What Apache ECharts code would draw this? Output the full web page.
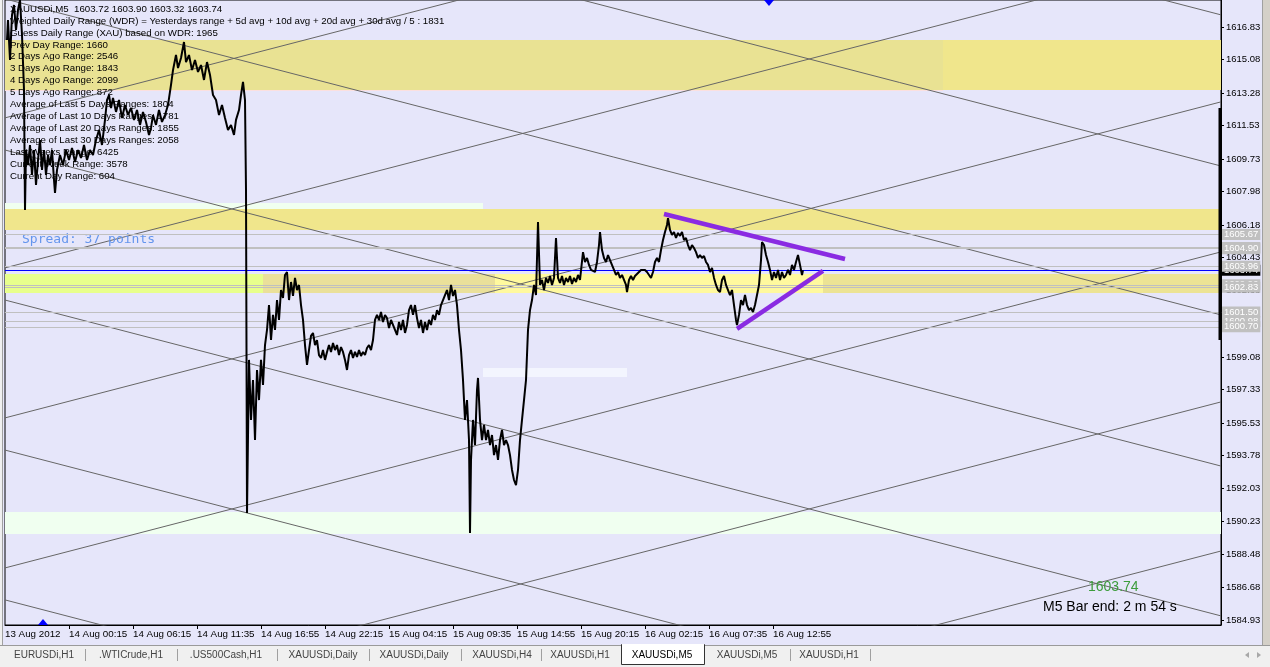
<!DOCTYPE html>
<html>
<head>
<meta charset="utf-8">
<script src="https://cdn.jsdelivr.net/npm/echarts@6.0.0/dist/echarts.min.js"></script>
<style>
html, body { margin: 0; padding: 0; background: #E6E6FA; }
#main { width: 1270px; height: 667px; }
</style>
</head>
<body>
<div id="main"></div>
<script>
// 时间轴标签 (每64根K线一个)
var timeLabels = ["13 Aug 2012", "14 Aug 00:15", "14 Aug 06:15", "14 Aug 11:35", "14 Aug 16:55", "14 Aug 22:15",
    "15 Aug 04:15", "15 Aug 09:35", "15 Aug 14:55", "15 Aug 20:15", "16 Aug 02:15", "16 Aug 07:35", "16 Aug 12:55"];
var labelIdx = [0, 64, 128, 192, 256, 320, 384, 448, 512, 576, 640, 704, 768];
var tickIdx = [64, 128, 192, 256, 320, 384, 448, 512, 576, 640, 704, 768];
// 右侧价格刻度
var yTicks = [1584.93, 1586.68, 1588.48, 1590.23, 1592.03, 1593.78, 1595.53, 1597.33, 1599.08, 1600.88,
    1602.68, 1604.43, 1606.18, 1607.98, 1609.73, 1611.53, 1613.28, 1615.08, 1616.83];

// 价格走势 [K线序号, 价格]
var price13 = [
    [2,1616.13],[3,1617.20],[5,1615.05],[7,1617.47],[9,1618.01],[11,1616.67],[13,1617.74],[15,1618.28],[17,1616.40],[19,1613.44],
    [20,1606.98],[21,1610.21],[23,1609.40],[25,1610.48],[27,1608.87],[29,1610.21],[31,1608.33],[33,1609.67],[35,1610.75],[37,1609.14],
    [39,1610.21],[41,1608.87],[43,1609.94],[45,1609.40],[47,1610.21],[49,1608.60],[50,1607.90],[52,1609.14],[55,1609.94],[58,1609.40],
    [61,1610.21],[64,1609.67],[67,1610.32],[70,1609.57],[73,1610.21],[76,1609.78],[79,1610.48],[82,1609.67],[85,1610.21],[88,1609.94],
    [91,1610.75],[94,1611.29],[97,1610.48],[100,1611.83],[102,1612.90],[104,1613.17],[106,1612.47],[108,1613.01],[111,1612.26],[114,1612.90],
    [117,1611.93],[120,1612.63],[123,1612.09],[126,1612.47],[129,1611.83],[132,1612.36],[135,1611.56],[138,1612.26],[141,1611.72],[144,1611.02],
    [146,1611.40],[148,1612.09],[151,1611.56],[154,1612.36],[157,1611.72],[160,1612.09],[163,1612.63],[166,1613.71],[168,1614.51],[171,1615.32],
    [173,1614.62],[176,1615.16],[179,1616.02],[181,1614.94],[184,1615.32],[187,1614.51],[190,1615.05],[193,1614.41],[196,1614.78],[199,1613.98],
    [202,1614.94],[205,1614.25],[208,1613.17],[211,1612.90],[214,1612.09],[217,1612.63],[220,1611.93],[223,1611.29],[226,1611.56],[229,1611.02],
    [231,1611.83],[234,1612.36],[236,1613.17],[238,1613.87],[240,1612.90],[241,1608.06],[242,1590.69],[244,1598.92]
];
var price14 = [
    [246,1595.69],[248,1597.84],[250,1594.61],[252,1598.38],[254,1596.76],[256,1598.92],[258,1597.57],[260,1599.72],[262,1600.53],[264,1601.87],
    [266,1599.99],[268,1601.34],[270,1600.53],[272,1602.14],[274,1601.07],[276,1602.68],[278,1602.25],[280,1603.49],[282,1603.65],[284,1602.14],
    [286,1603.11],[288,1602.36],[290,1603.33],[292,1602.68],[294,1602.95],[296,1601.87],[298,1601.07],[300,1599.72],[302,1598.65],[304,1599.45],
    [306,1600.21],[308,1600.37],[310,1599.72],[312,1599.99],[314,1599.18],[316,1599.02],[318,1599.45],[320,1598.92],[322,1599.35],[324,1599.72],
    [326,1599.35],[328,1599.83],[330,1599.45],[332,1599.72],[334,1599.18],[336,1599.61],[338,1599.35],[340,1598.92],[342,1598.38],[344,1599.18],
    [346,1599.45],[348,1599.02],[350,1599.35],[352,1599.08],[354,1599.45],[356,1599.13],[358,1599.35],[360,1599.18],[362,1599.56],[364,1599.72],
    [366,1599.45],[368,1599.99],[370,1601.07],[372,1601.34],[374,1601.07],[376,1601.50],[378,1600.96],[380,1601.34],[382,1601.17],[384,1600.64],
    [386,1601.07],[388,1600.80],[390,1600.53],[392,1600.26],[394,1600.96],[396,1600.53],[398,1601.07],[400,1600.37],[402,1600.80],[404,1601.60],
    [406,1601.87],[408,1601.34],[410,1601.87],[412,1601.17],[414,1600.64],[416,1601.07],[418,1600.37],[420,1600.96],[422,1600.53],[424,1601.07],
    [426,1600.80],[428,1601.34],[430,1601.07],[432,1601.60],[434,1601.34],[436,1601.87],[438,1602.14],[440,1602.41],[442,1602.68],[444,1602.14],
    [446,1602.95],[448,1602.36],[450,1602.68],[452,1601.87],[454,1600.53],[456,1599.45],[458,1597.84],[460,1595.69],[462,1596.76],[464,1594.61],
    [465,1589.61],[466,1593.54],[468,1595.69],[470,1594.34],[472,1597.30],[473,1597.95],[475,1595.69],[477,1594.61],[479,1595.42],[481,1594.61],
    [483,1595.15],[485,1594.34],[487,1594.88],[489,1593.80],[491,1594.34],[493,1593.54],[495,1594.61],[497,1595.15],[499,1594.34],[501,1594.61],
    [503,1594.34],[505,1593.80],[507,1593.00],[509,1592.46],[511,1592.19],[513,1593.00],[515,1594.61],[517,1595.69],[519,1596.76],[521,1597.84],
    [523,1600.53],[525,1601.60],[527,1602.14],[529,1602.95],[531,1602.41],[533,1606.34],[535,1602.95]
];
var price16 = [
    [537,1603.22],[539,1602.68],[541,1603.33],[543,1603.06],[545,1603.43],[547,1602.95],[549,1603.33],[551,1605.48],[553,1603.33],[555,1603.06],
    [557,1603.43],[559,1602.95],[561,1603.33],[563,1603.11],[565,1603.43],[567,1603.00],[569,1603.33],[571,1603.11],[573,1603.49],[575,1603.22],
    [578,1604.72],[580,1604.19],[582,1604.40],[584,1604.03],[586,1603.76],[588,1603.86],[590,1603.65],[592,1604.19],[594,1605.10],[595,1605.80],
    [597,1604.83],[599,1604.40],[601,1604.19],[603,1604.56],[605,1604.29],[607,1604.19],[609,1603.76],[611,1603.49],[613,1603.65],[615,1603.33],
    [617,1603.49],[619,1603.22],[621,1602.95],[622,1602.57],[624,1603.22],[626,1603.43],[628,1603.22],[630,1603.43],[632,1603.33],[634,1603.65],
    [636,1603.76],[638,1603.86],[640,1603.76],[642,1603.65],[644,1603.49],[646,1603.33],[648,1603.65],[650,1604.19],[652,1604.40],[654,1604.19],
    [656,1604.83],[658,1605.37],[660,1605.80],[662,1606.18],[663,1606.55],[665,1605.91],[667,1605.64],[669,1605.80],[671,1605.48],[673,1605.75],
    [675,1605.59],[677,1605.80],[679,1605.37],[681,1605.48],[683,1605.10],[685,1604.83],[687,1605.10],[689,1604.94],[691,1604.72],[693,1604.40],
    [695,1604.56],[697,1604.40],[699,1604.51],[701,1604.19],[703,1604.03],[705,1603.65],[707,1603.86],[709,1603.33],[711,1602.95],[713,1602.68],
    [715,1602.57],[717,1603.22],[719,1603.43],[721,1602.95],[723,1602.68],[725,1602.41],[727,1602.68],[729,1601.87],[731,1601.07],[732,1600.80],
    [734,1601.34],[736,1602.14],[738,1601.87],[740,1602.41],[742,1601.87],[744,1601.60],[746,1601.71],[748,1601.50],[750,1601.87],[752,1602.41],
    [754,1602.95],[756,1604.29],[757,1605.26],[759,1605.10],[761,1604.56],[763,1604.19],[765,1603.76],[767,1603.22],[769,1603.65],[771,1603.33],
    [773,1603.76],[775,1603.22],[777,1603.65],[779,1603.33],[781,1603.49],[783,1603.76],[785,1603.49],[787,1604.03],[789,1603.76],[791,1604.19],
    [793,1604.56],[795,1604.03],[797,1603.49],[798,1603.74]
];

// 江恩网格线 [起点价格(序号0), 终点价格(序号1216)]
var gannDown = [[1634.47, 1617.48], [1626.35, 1609.35], [1618.34, 1601.34], [1610.21, 1593.21],
    [1602.14, 1585.15], [1594.07, 1577.08], [1586.01, 1569.01]];
var gannUp = [[1611.94, 1628.93], [1603.87, 1620.86], [1595.80, 1612.80], [1587.73, 1604.73],
    [1579.66, 1596.66], [1571.64, 1588.64]];
// 紫色三角形趋势线
var trendUpper = [[659, 1606.77], [840, 1604.35]];
var trendLower = [[732, 1600.59], [818, 1603.71]];
// 右侧日内区间竖条
var rangeBar = [[1215, 1612.47], [1215, 1599.99]];

// 水平价位线
var levelPrices = [1605.67, 1604.96, 1604.90, 1603.96, 1602.96, 1602.83, 1601.50, 1600.98, 1600.70];
var bidPrice = 1603.74;

// 色带 [起始序号, 结束序号, 上沿, 下沿, 颜色]
var zones = [
    [0, 938, 1616.13, 1613.44, "#E9E293"],
    [938, 1216, 1616.13, 1613.44, "#F0E68C"],
    [0, 938, 1613.44, 1613.38, "#FBE0E0"],
    [0, 478, 1607.36, 1607.04, "#F0FFF0"],
    [0, 1216, 1607.04, 1605.91, "#F0E68C"],
    [0, 258, 1603.54, 1602.52, "#E8FF8C"],
    [258, 490, 1603.54, 1602.52, "#EAE09A"],
    [490, 818, 1603.54, 1602.52, "#FFF99E"],
    [818, 1216, 1603.54, 1602.52, "#ECE394"],
    [478, 622, 1598.49, 1598.00, "#F3F5FE"],
    [0, 1216, 1590.74, 1589.56, "#F0FFF0"]
];

var infoLines = [
    "XAUUSDi,M5  1603.72 1603.90 1603.32 1603.74",
    "Weighted Daily Range (WDR) = Yesterdays range + 5d avg + 10d avg + 20d avg + 30d avg / 5 : 1831",
    "Guess Daily Range (XAU) based on WDR: 1965",
    "Prev Day Range: 1660",
    "2 Days Ago Range: 2546",
    "3 Days Ago Range: 1843",
    "4 Days Ago Range: 2099",
    "5 Days Ago Range: 872",
    "Average of Last 5 Days Ranges: 1804",
    "Average of Last 10 Days Ranges: 1781",
    "Average of Last 20 Days Ranges: 1855",
    "Average of Last 30 Days Ranges: 2058",
    "Last Weeks Range: 6425",
    "Current Week Range: 3578",
    "Current Day Range: 604"
];
var tabNames = ["EURUSDi,H1", ".WTICrude,H1", ".US500Cash,H1", "XAUUSDi,Daily", "XAUUSDi,Daily",
    "XAUUSDi,H4", "XAUUSDi,H1", "XAUUSDi,M5", "XAUUSDi,M5", "XAUUSDi,H1"];
var activeTab = 7;

(function () {
    var myChart = echarts.init(document.getElementById("main"));
    var font = '"Liberation Sans", Arial, sans-serif';

    // 图形元素: 文字、标签页
    var graphics = [];
    infoLines.forEach(function (t, i) {
        graphics.push({
            type: "text", z: 3, x: 10, y: 9 + 11.95 * i,
            style: { text: t, fill: "#000", font: "9.7px " + font, verticalAlign: "middle", textVerticalAlign: "middle" }
        });
    });
    graphics.push({
        type: "text", z: 3, x: 22, y: 240,
        style: { text: "Spread: 37 points", fill: "#6495ED", font: '13px "DejaVu Sans Mono", monospace', verticalAlign: "middle", textVerticalAlign: "middle" }
    });
    graphics.push({
        type: "text", z: 3, x: 1088, y: 587,
        style: { text: "1603.74", fill: "#3C9C3C", font: "14px " + font, verticalAlign: "middle", textVerticalAlign: "middle" }
    });
    graphics.push({
        type: "text", z: 3, x: 1043, y: 607,
        style: { text: "M5 Bar end: 2 m 54 s", fill: "#000", font: "14px " + font, verticalAlign: "middle", textVerticalAlign: "middle" }
    });
    // 蓝色小三角
    graphics.push({ type: "polygon", z: 8, shape: { points: [[764, 0], [774, 0], [769, 6]] }, style: { fill: "#0000FF" } });
    graphics.push({ type: "polygon", z: 8, shape: { points: [[38, 625], [48, 625], [43, 619]] }, style: { fill: "#0000FF" } });
    // 左右边框条
    graphics.push({ type: "rect", z: 8, shape: { x: 0, y: 0, width: 2, height: 645 }, style: { fill: "#F0F0F0" } });
    graphics.push({ type: "rect", z: 8, shape: { x: 2, y: 0, width: 1, height: 645 }, style: { fill: "#A0A0A0" } });
    graphics.push({ type: "rect", z: 8, shape: { x: 1262, y: 0, width: 8, height: 645 }, style: { fill: "#D4D0C8" } });
    graphics.push({ type: "rect", z: 8, shape: { x: 1262, y: 0, width: 1, height: 645 }, style: { fill: "#A0A0A0" } });
    // 底部标签页
    graphics.push({ type: "rect", z: 8, shape: { x: 0, y: 645, width: 1270, height: 22 }, style: { fill: "#F0F0F0" } });
    graphics.push({ type: "rect", z: 8, shape: { x: 0, y: 645, width: 1270, height: 1 }, style: { fill: "#9A9A9A" } });
    var tabCenters = [44, 131, 226, 323, 414, 502, 580, 662, 747, 829];
    var tabSeps = [85, 177, 277, 369, 461, 541, 790, 870];
    graphics.push({
        type: "rect", z: 9, shape: { x: 621.5, y: 644.5, width: 83, height: 20 },
        style: { fill: "#FFFFFF", stroke: "#333", lineWidth: 1 }
    });
    graphics.push({ type: "rect", z: 9, shape: { x: 622, y: 644, width: 82, height: 2 }, style: { fill: "#FFFFFF" } });
    tabSeps.forEach(function (x) {
        graphics.push({ type: "rect", z: 9, shape: { x: x, y: 649, width: 1, height: 12 }, style: { fill: "#A0A0A0" } });
    });
    tabNames.forEach(function (t, i) {
        graphics.push({
            type: "text", z: 10, x: tabCenters[i], y: 655,
            style: {
                text: t, fill: i === activeTab ? "#000" : "#444", font: "10px " + font,
                align: "center", textAlign: "center", verticalAlign: "middle", textVerticalAlign: "middle"
            }
        });
    });
    graphics.push({ type: "polygon", z: 9, shape: { points: [[1249, 652], [1249, 658], [1245, 655]] }, style: { fill: "#A8A8A8" } });
    graphics.push({ type: "polygon", z: 9, shape: { points: [[1257, 652], [1257, 658], [1261, 655]] }, style: { fill: "#A8A8A8" } });

    // 江恩线系列
    var gannSeries = [];
    gannDown.concat(gannUp).forEach(function (g) {
        gannSeries.push({
            type: "line", z: 2, silent: true, symbol: "none", animation: false,
            data: [[0, g[0]], [1216, g[1]]],
            lineStyle: { color: "#666666", width: 1 }
        });
    });

    // 当前价 (蓝线 + 黑色标签), 放在最前, 被灰色标签压住
    var lines = [{
        yAxis: bidPrice, lineStyle: { color: "#0000FF", width: 1, type: "solid" },
        label: {
            show: true, position: "end", distance: 1, color: "#fff", backgroundColor: "#000",
            padding: [1, 2, 0, 2], fontSize: 9.5, fontFamily: font,
            formatter: function (p) { return p.value.toFixed(2); }
        }
    }];
    var levelLabel = {
        show: true, position: "end", distance: 1,
        color: "#fff", backgroundColor: "#C0C0C0", padding: [1, 2, 0, 2],
        fontSize: 9.5, fontFamily: font,
        formatter: function (p) { return p.value.toFixed(2); }
    };
    levelPrices.forEach(function (p) {
        lines.push({ yAxis: p, lineStyle: { color: "#C0C0C0", width: 1, type: "solid" }, label: levelLabel });
    });

    var option = {
        backgroundColor: "#E6E6FA",
        animation: false,
        grid: {
            left: 5, right: 49, top: 0, bottom: 42,
            show: true, borderColor: "#000", borderWidth: 1, backgroundColor: "transparent"
        },
        xAxis: {
            type: "value", min: 0, max: 1216,
            splitLine: { show: false },
            axisLine: { show: true, onZero: false, lineStyle: { color: "#000", width: 1 } },
            axisTick: { show: true, customValues: tickIdx, length: 4, lineStyle: { color: "#000" } },
            axisLabel: {
                customValues: labelIdx, align: "left", margin: 4,
                color: "#000", fontSize: 9.8, fontFamily: font,
                formatter: function (v) {
                    var i = labelIdx.indexOf(v);
                    return i >= 0 ? timeLabels[i] : "";
                }
            }
        },
        yAxis: {
            type: "value", position: "right", min: 1584.66, max: 1618.28,
            splitLine: { show: false },
            axisLine: { show: true, onZero: false, lineStyle: { color: "#000", width: 1 } },
            axisTick: { show: true, inside: false, customValues: yTicks, length: 3, lineStyle: { color: "#000" } },
            axisLabel: {
                customValues: yTicks, margin: 5, color: "#000", fontSize: 9.5, fontFamily: font,
                formatter: function (v) { return v.toFixed(2); }
            }
        },
        graphic: { elements: graphics },
        series: gannSeries.concat([
            {
                name: "XAUUSDi,M5",
                type: "line", z: 6, symbol: "none", silent: true,
                data: price13.concat(price14, price16),
                lineStyle: { color: "#000", width: 2 },
                markArea: {
                    silent: true, z: 1,
                    data: zones.map(function (b) {
                        return [
                            { xAxis: b[0], yAxis: b[2], itemStyle: { color: b[4], opacity: 1, borderWidth: 0 } },
                            { xAxis: b[1], yAxis: b[3] }
                        ];
                    })
                },
                markLine: {
                    silent: true, symbol: ["none", "none"], z: 5, animation: false,
                    data: lines
                }
            },
            {
                type: "line", z: 6, symbol: "none", silent: true, data: rangeBar,
                lineStyle: { color: "#000", width: 3 }
            },
            {
                type: "line", z: 7, symbol: "none", silent: true, data: trendUpper,
                lineStyle: { color: "#8A2BE2", width: 4.5 }
            },
            {
                type: "line", z: 7, symbol: "none", silent: true, data: trendLower,
                lineStyle: { color: "#8A2BE2", width: 4.5 }
            }
        ])
    };
    myChart.setOption(option);
    window.addEventListener("resize", function () {
        myChart.resize();
    });
})();
</script>
</body>
</html>
